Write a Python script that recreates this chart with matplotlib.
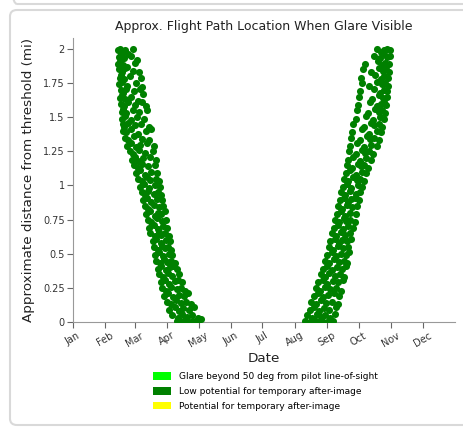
import matplotlib
matplotlib.use("Agg")
import matplotlib.pyplot as plt
from matplotlib.patches import Patch, FancyBboxPatch

# ---- data (day of year, distance in mi) ----
spring_day = [
    43, 45, 47, 50, 53, 57,
    44, 46, 49, 55, 61,
    43, 45, 48, 52, 59,
    44, 47, 50, 57, 63,
    45, 46, 49, 54, 65,
    44, 47, 52, 60, 66,
    46, 48, 51, 58, 64, 67,
    45, 47, 50, 55, 62,
    46, 49, 53, 59, 66, 70,
    47, 48, 51, 57, 63, 71,
    47, 50, 55, 61, 68,
    48, 49, 53, 59, 65, 73,
    48, 51, 55, 62, 70, 75,
    50, 53, 58, 66, 73,
    52, 55, 60, 64, 71, 77,
    54, 57, 63, 69, 76,
    56, 59, 62, 67, 74, 79,
    58, 62, 66, 72, 78,
    60, 64, 69, 75, 80,
    62, 66, 71, 74, 79, 82,
    64, 68, 73, 78, 83,
    66, 69, 72, 77, 81, 84,
    67, 71, 75, 80, 85,
    69, 72, 77, 82, 86,
    70, 74, 78, 81, 84, 88,
    72, 75, 80, 85, 89,
    73, 77, 81, 86, 90,
    74, 78, 82, 84, 88, 92,
    76, 79, 84, 89, 93,
    77, 81, 85, 88, 91, 94,
    78, 82, 86, 92, 95,
    79, 83, 87, 90, 94, 97,
    81, 84, 89, 93, 96, 99,
    82, 86, 91, 95, 101,
    84, 88, 92, 97, 100, 104,
    85, 89, 94, 99, 103, 107,
    87, 91, 96, 101, 106, 110,
    90, 94, 98, 103, 108, 113,
    92, 97, 101, 105, 111, 116,
    95, 100, 104, 109, 114, 119,
    99, 103, 107, 111, 115, 119, 122,
]
spring_mi = [
    1.99, 2.00, 1.97, 1.99, 1.96, 2.00,
    1.94, 1.96, 1.93, 1.95, 1.92,
    1.89, 1.91, 1.88, 1.87, 1.90,
    1.85, 1.83, 1.86, 1.84, 1.83,
    1.79, 1.81, 1.78, 1.80, 1.79,
    1.74, 1.76, 1.73, 1.75, 1.72,
    1.70, 1.68, 1.71, 1.69, 1.71, 1.67,
    1.64, 1.66, 1.63, 1.65, 1.62,
    1.60, 1.58, 1.61, 1.59, 1.61, 1.58,
    1.54, 1.56, 1.53, 1.55, 1.54, 1.55,
    1.49, 1.51, 1.48, 1.50, 1.49,
    1.45, 1.43, 1.46, 1.44, 1.45, 1.43,
    1.40, 1.39, 1.41, 1.38, 1.40, 1.41,
    1.35, 1.33, 1.36, 1.34, 1.33,
    1.29, 1.31, 1.28, 1.30, 1.31, 1.29,
    1.25, 1.23, 1.26, 1.24, 1.25,
    1.19, 1.21, 1.18, 1.20, 1.21, 1.19,
    1.15, 1.13, 1.16, 1.14, 1.15,
    1.09, 1.11, 1.08, 1.10, 1.09,
    1.05, 1.03, 1.06, 1.04, 1.05, 1.03,
    0.99, 1.01, 0.98, 1.00, 0.99,
    0.95, 0.93, 0.96, 0.94, 0.95, 0.93,
    0.89, 0.91, 0.88, 0.90, 0.89,
    0.85, 0.83, 0.86, 0.84, 0.85,
    0.79, 0.81, 0.78, 0.80, 0.79, 0.81,
    0.75, 0.73, 0.76, 0.74, 0.75,
    0.69, 0.71, 0.68, 0.70, 0.69,
    0.65, 0.63, 0.66, 0.64, 0.65, 0.63,
    0.59, 0.61, 0.58, 0.60, 0.59,
    0.55, 0.53, 0.56, 0.54, 0.55, 0.53,
    0.49, 0.51, 0.48, 0.50, 0.49,
    0.45, 0.43, 0.46, 0.44, 0.45, 0.43,
    0.39, 0.41, 0.38, 0.40, 0.41, 0.39,
    0.35, 0.33, 0.36, 0.34, 0.35,
    0.29, 0.31, 0.28, 0.30, 0.31, 0.29,
    0.25, 0.23, 0.26, 0.24, 0.25, 0.23,
    0.19, 0.21, 0.18, 0.20, 0.19, 0.21,
    0.15, 0.13, 0.16, 0.14, 0.15, 0.13,
    0.09, 0.11, 0.08, 0.10, 0.09, 0.11,
    0.05, 0.03, 0.06, 0.04, 0.05, 0.03,
    0.01, 0.00, 0.02, 0.00, 0.01, 0.00, 0.02,
]

autumn_day = [
    222, 226, 230, 234, 238, 243, 248,
    224, 228, 233, 237, 241, 246, 250,
    226, 230, 235, 240, 245, 251,
    227, 232, 237, 242, 247, 253,
    230, 234, 239, 244, 249, 254,
    232, 236, 241, 246, 251, 256,
    234, 239, 243, 248, 253, 258,
    237, 241, 245, 250, 255, 259,
    239, 243, 247, 252, 257, 261,
    241, 245, 249, 254, 259, 262,
    243, 247, 251, 256, 261, 264,
    245, 248, 253, 258, 263,
    246, 250, 254, 257, 262, 266,
    247, 251, 256, 260, 265,
    249, 253, 258, 263, 268,
    250, 254, 259, 261, 265, 269,
    252, 256, 260, 265, 270,
    253, 257, 262, 267, 271,
    255, 259, 263, 266, 269, 273,
    256, 260, 265, 270, 274,
    258, 262, 266, 272, 276,
    259, 263, 268, 271, 274, 278,
    261, 265, 270, 276, 280,
    262, 267, 272, 275, 278, 282,
    263, 268, 274, 280, 285,
    264, 270, 276, 279, 283, 287,
    265, 271, 278, 285, 290,
    266, 274, 281, 284, 288, 292,
    267, 276, 283, 290, 294,
    268, 278, 285, 288, 292, 295,
    270, 280, 287, 293, 297,
    271, 282, 289, 292, 295, 298,
    272, 284, 290, 294, 297, 299,
    273, 286, 292, 296, 300,
    274, 288, 293, 297, 300,
    276, 283, 290, 295, 298, 301,
    275, 289, 294, 297, 301,
    277, 285, 292, 296, 299, 302,
    279, 291, 295, 298, 302,
    288, 293, 297, 300, 303,
    290, 294, 297, 300, 303,
]
autumn_mi = [
    0.01, 0.00, 0.02, 0.00, 0.01, 0.00, 0.01,
    0.05, 0.03, 0.06, 0.04, 0.05, 0.03, 0.06,
    0.09, 0.11, 0.08, 0.10, 0.09, 0.11,
    0.15, 0.13, 0.16, 0.14, 0.15, 0.13,
    0.19, 0.21, 0.18, 0.20, 0.21, 0.19,
    0.25, 0.23, 0.26, 0.24, 0.25, 0.23,
    0.29, 0.31, 0.28, 0.30, 0.29, 0.31,
    0.35, 0.33, 0.36, 0.34, 0.35, 0.33,
    0.39, 0.41, 0.38, 0.40, 0.39, 0.41,
    0.45, 0.43, 0.46, 0.44, 0.45, 0.43,
    0.49, 0.51, 0.48, 0.50, 0.49, 0.51,
    0.55, 0.53, 0.56, 0.54, 0.55,
    0.59, 0.61, 0.58, 0.60, 0.59, 0.61,
    0.65, 0.63, 0.66, 0.64, 0.65,
    0.69, 0.71, 0.68, 0.70, 0.69,
    0.75, 0.73, 0.76, 0.74, 0.75, 0.73,
    0.79, 0.81, 0.78, 0.80, 0.79,
    0.85, 0.83, 0.86, 0.84, 0.85,
    0.89, 0.91, 0.88, 0.90, 0.91, 0.89,
    0.95, 0.93, 0.96, 0.94, 0.95,
    0.99, 1.01, 0.98, 1.00, 0.99,
    1.05, 1.03, 1.06, 1.04, 1.05, 1.03,
    1.09, 1.11, 1.08, 1.10, 1.09,
    1.15, 1.13, 1.16, 1.14, 1.15, 1.13,
    1.19, 1.21, 1.18, 1.20, 1.19,
    1.25, 1.23, 1.26, 1.24, 1.25, 1.23,
    1.29, 1.31, 1.28, 1.30, 1.29,
    1.35, 1.33, 1.36, 1.34, 1.35, 1.33,
    1.39, 1.41, 1.38, 1.40, 1.39,
    1.45, 1.43, 1.46, 1.44, 1.45, 1.43,
    1.49, 1.51, 1.48, 1.50, 1.49,
    1.55, 1.53, 1.56, 1.54, 1.55, 1.53,
    1.59, 1.61, 1.58, 1.60, 1.61, 1.59,
    1.65, 1.63, 1.66, 1.64, 1.65,
    1.69, 1.71, 1.68, 1.70, 1.69,
    1.75, 1.73, 1.76, 1.74, 1.75, 1.73,
    1.79, 1.81, 1.78, 1.80, 1.79,
    1.85, 1.83, 1.86, 1.84, 1.85, 1.83,
    1.89, 1.91, 1.88, 1.90, 1.89,
    1.95, 1.93, 1.96, 1.94, 1.95,
    2.00, 1.98, 1.99, 2.00, 1.99,
]

month_starts = [0, 31, 59, 90, 120, 151, 181, 212, 243, 273, 304, 334]
month_labels = ["Jan", "Feb", "Mar", "Apr", "May", "Jun",
                "Jul", "Aug", "Sep", "Oct", "Nov", "Dec"]
y_ticks = [0, 0.25, 0.5, 0.75, 1, 1.25, 1.5, 1.75, 2]
y_labels = ["0", "0.25", "0.5", "0.75", "1", "1.25", "1.5", "1.75", "2"]
legend_labels = ["Glare beyond 50 deg from pilot line-of-sight",
                 "Low potential for temporary after-image",
                 "Potential for temporary after-image"]
legend_colors = ["#00ff00", "#008000", "#ffff00"]

W, H = 463, 428
fig = plt.figure(figsize=(W / 100, H / 100), dpi=100)
fig.patch.set_facecolor("white")

# card frames (previous card bottom edge, current card)
fig.patches.append(FancyBboxPatch((10 / W, 1 - 4 / H), 470 / W, 60 / H,
                                  boxstyle="round,pad=0,rounding_size=0.015",
                                  transform=fig.transFigure, facecolor="none",
                                  edgecolor="#d9d9d9", linewidth=1.5, zorder=-5))
fig.patches.append(FancyBboxPatch((10 / W, 3 / H), 470 / W, 415 / H,
                                  boxstyle="round,pad=0,rounding_size=0.015",
                                  transform=fig.transFigure, facecolor="none",
                                  edgecolor="#d9d9d9", linewidth=1.5, zorder=-5))

ax = fig.add_axes([73 / W, 1 - 322 / H, (455 - 73) / W, (322 - 38) / H])
ax.set_facecolor("none")

ax.scatter(spring_day, spring_mi, s=26, color="#008000", linewidths=0, zorder=3)
ax.scatter(autumn_day, autumn_mi, s=26, color="#008000", linewidths=0, zorder=3)

ax.set_xlim(0, 365)
ax.set_ylim(0, 2.08)
ax.set_xticks(month_starts)
ax.set_xticklabels(month_labels, rotation=30, ha="center", fontsize=7, color="#333333")
ax.set_yticks(y_ticks)
ax.set_yticklabels(y_labels, fontsize=7, color="#333333")
ax.tick_params(axis="both", colors="#666666", length=4, width=0.8, labelcolor="#333333", pad=2)

for side in ["top", "right"]:
    ax.spines[side].set_visible(False)
for side in ["left", "bottom"]:
    ax.spines[side].set_color("#999999")
    ax.spines[side].set_linewidth(0.8)

ax.set_title("Approx. Flight Path Location When Glare Visible", fontsize=9,
             color="#222222", pad=6)
ax.set_ylabel("Approximate distance from threshold (mi)", fontsize=9.7, color="#222222", labelpad=6)
ax.set_xlabel("Date", fontsize=9.7, color="#222222", labelpad=2)

handles = [Patch(facecolor=c, edgecolor="none") for c in legend_colors]
fig.legend(handles, legend_labels, loc="upper left",
           bbox_to_anchor=(153 / W, 1 - 372 / H), frameon=False, fontsize=6.5,
           handlelength=2.0, handleheight=0.9, handletextpad=0.9, labelspacing=0.65,
           borderaxespad=0, borderpad=0)

fig.savefig("out.png", dpi=100)
